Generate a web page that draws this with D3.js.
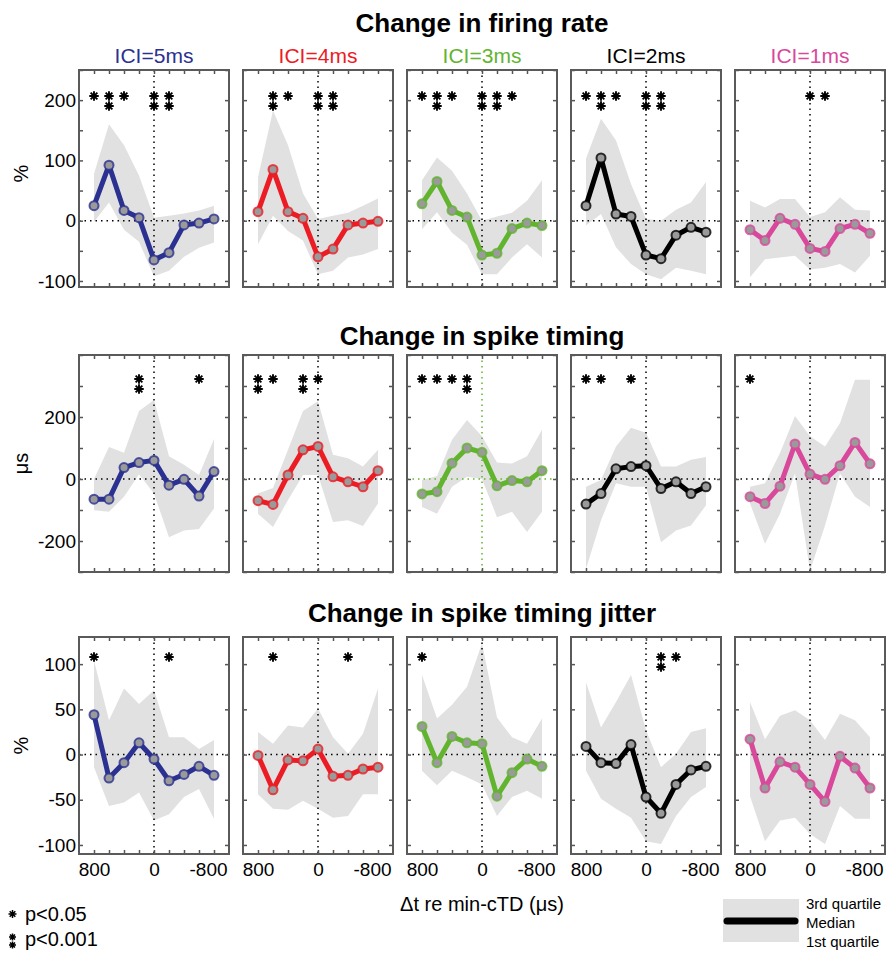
<!DOCTYPE html>
<html>
<head>
<meta charset="utf-8">
<script src="https://cdn.jsdelivr.net/npm/d3@7"></script>
<style>
  body { margin: 0; background: #fff; }
  svg { font-family: "Liberation Sans", Arial, sans-serif; }
  .tick line { stroke: #555; stroke-width: 1.5; }
  .domain { display: none; }
</style>
</head>
<body>
<div class="chart"></div>
<script>

// time offsets (x), same for every panel
const dt = [800, 600, 400, 200, 0, -200, -400, -600, -800];
const conditions = ["ICI=5ms", "ICI=4ms", "ICI=3ms", "ICI=2ms", "ICI=1ms"];
const colors = ["#2b3190", "#ec1c24", "#62b42f", "#000000", "#d8489b"];

// change in firing rate (%)
const rateMedian = [
  [25, 92, 17, 5, -65, -53, -7, -4, 3],
  [15, 85, 15, 4, -60, -47, -7, -4, -1],
  [28, 65, 17, 6, -57, -54, -13, -4, -8],
  [25, 104, 11, 7, -57, -63, -24, -11, -19],
  [-15, -33, 4, -6, -46, -51, -13, -6, -21]
];
const rateQ3 = [
  [78, 160, 125, 75, 5, 8, 12, 17, 25],
  [72, 183, 125, 45, 3, 8, 13, 25, 37],
  [67, 105, 83, 45, 0, 7, 13, 33, 67],
  [103, 169, 133, 61, 3, 0, 18, 30, 64],
  [33, 22, 36, 36, 6, 14, 39, 18, 17]
];
const rateQ1 = [
  [-2, 30, -15, -35, -92, -83, -60, -45, -36],
  [-39, 8, -17, -33, -89, -83, -61, -56, -47],
  [-14, 14, -20, -40, -89, -89, -61, -39, -61],
  [-8, 11, -44, -72, -89, -97, -78, -83, -89],
  [-94, -64, -61, -58, -81, -78, -72, -86, -58]
];
const rateStars = [
  [[800, 1], [600, 2], [400, 1], [0, 2], [-200, 2]],
  [[600, 2], [400, 1], [0, 2], [-200, 2]],
  [[800, 1], [600, 2], [400, 1], [0, 2], [-200, 2], [-400, 1]],
  [[800, 1], [600, 2], [400, 1], [0, 2], [-200, 2]],
  [[0, 1], [-200, 1]]
];

// change in spike timing (µs)
const timingMedian = [
  [-65, -65, 37, 53, 60, -20, -1, -55, 24],
  [-70, -82, 13, 94, 105, 7, -9, -25, 27],
  [-48, -41, 51, 100, 86, -22, -5, -9, 27],
  [-81, -47, 33, 40, 43, -31, -9, -47, -25],
  [-57, -79, -23, 113, 16, -1, 43, 118, 49]
];
const timingQ3 = [
  [0, 103, 85, 219, 255, 73, 46, 13, 129],
  [-47, -29, 94, 219, 251, 78, 67, 40, 94],
  [-3, 10, 127, 190, 138, 53, 50, 73, 159],
  [-25, -3, 105, 165, 149, 40, 40, 62, 71],
  [-25, -14, 84, 203, 138, 105, 181, 320, 320]
];
const timingQ1 = [
  [-101, -106, -57, 15, -47, -188, -166, -161, -95],
  [-112, -155, -68, 13, 13, -139, -133, -152, -79],
  [-90, -112, -25, 7, 0, -123, -106, -171, -106],
  [-290, -133, -14, -25, -25, -204, -166, -150, -85],
  [-79, -209, -112, 18, -296, -150, 18, -57, -90]
];
const timingStars = [
  [[200, 2], [-600, 1]],
  [[800, 2], [600, 1], [200, 2], [0, 1]],
  [[800, 1], [600, 1], [400, 1], [200, 2]],
  [[800, 1], [600, 1], [200, 1]],
  [[800, 1]]
];

// change in spike timing jitter (%)
const jitterMedian = [
  [44, -26, -9, 13, -5, -29, -22, -13, -23],
  [-1, -39, -6, -7, 6, -24, -23, -16, -14],
  [31, -9, 20, 13, 12, -46, -20, -5, -13],
  [9, -9, -10, 11, -47, -65, -33, -17, -13],
  [17, -37, -8, -14, -33, -52, -2, -15, -37]
];
const jitterQ3 = [
  [104, 38, 73, 56, 71, 19, 19, 6, 16],
  [25, 12, 32, 30, 51, 19, 1, 23, 73],
  [88, 40, 55, 75, 123, 41, 19, 12, 40],
  [80, 30, 58, 88, 27, -14, 1, 25, 29],
  [58, 17, 43, 49, 38, 16, 45, 38, 19]
];
const jitterQ1 = [
  [-14, -57, -53, -42, -73, -66, -47, -38, -71],
  [-44, -60, -61, -51, -60, -70, -68, -44, -44],
  [-18, -34, -18, -25, -33, -68, -47, -40, -49],
  [-18, -49, -60, -70, -96, -99, -68, -47, -36],
  [-46, -96, -73, -70, -88, -99, -57, -71, -71]
];
const jitterStars = [
  [[800, 1], [-200, 1]],
  [[600, 1], [-400, 1]],
  [[800, 1]],
  [[-200, 2], [-400, 1]],
  []
];

const xTickLabels = [800, 0, -800];

// layout
const W = 889, H = 958;
const panelW = 150, panelH = 217;
const colLeft = [79, 243, 407, 571, 735];

const rows = [
  {title: "Change in firing rate", unit: "%", top: 70, titleY: 32, domain: [-110, 250],
   ticks: d3.range(-100, 251, 50), labels: [200, 100, 0, -100],
   med: rateMedian, q1: rateQ1, q3: rateQ3, stars: rateStars, starTop: 26},
  {title: "Change in spike timing", unit: "\u03bcs", top: 355, titleY: 345, domain: [-300, 400],
   ticks: d3.range(-300, 401, 100), labels: [200, 0, -200],
   med: timingMedian, q1: timingQ1, q3: timingQ3, stars: timingStars, starTop: 24},
  {title: "Change in spike timing jitter", unit: "%", top: 637, titleY: 622, domain: [-110, 130],
   ticks: d3.range(-100, 131, 50), labels: [100, 50, 0, -50, -100],
   med: jitterMedian, q1: jitterQ1, q3: jitterQ3, stars: jitterStars, starTop: 20}
];

// plain hyphen for negatives, like the original
const fmt = d => String(d);

// 8-point asterisk for significance marks
const asterisk = {
  draw(ctx, size) {
    const r = Math.sqrt(size) / 2;
    for (let k = 0; k < 4; k++) {
      const a = k * Math.PI / 4;
      ctx.moveTo(-r * Math.cos(a), -r * Math.sin(a));
      ctx.lineTo(r * Math.cos(a), r * Math.sin(a));
    }
  }
};
const star = d3.symbol().type(asterisk);

const svg = d3.select(".chart").append("svg")
    .attr("width", W)
    .attr("height", H);

const x = d3.scaleLinear().domain([1000, -1000]).range([0, panelW]);

rows.forEach((row, r) => {
  const y = d3.scaleLinear().domain(row.domain).range([panelH, 0]);

  svg.append("text")
      .attr("x", colLeft[2] + panelW / 2)
      .attr("y", row.titleY)
      .attr("text-anchor", "middle")
      .attr("font-size", 26)
      .attr("font-weight", "bold")
      .text(row.title);

  svg.append("text")
      .attr("transform", `translate(28, ${row.top + panelH / 2 - (r === 0 ? 5 : 0)}) rotate(-90)`)
      .attr("text-anchor", "middle")
      .attr("font-size", 20)
      .text(row.unit);

  conditions.forEach((cond, c) => {
    const col = colors[c];
    const g = svg.append("g")
        .attr("transform", `translate(${colLeft[c]}, ${row.top})`);

    if (r === 0) {
      svg.append("text")
          .attr("x", colLeft[c] + panelW / 2)
          .attr("y", 63)
          .attr("text-anchor", "middle")
          .attr("font-size", 21)
          .attr("fill", col)
          .text(cond);
    }

    const pts = dt.map((d, i) => ({t: d, m: row.med[c][i], lo: row.q1[c][i], hi: row.q3[c][i]}));

    // interquartile band
    g.append("path")
        .datum(pts)
        .attr("fill", "#e1e1e1")
        .attr("d", d3.area().x(d => x(d.t)).y0(d => y(d.lo)).y1(d => y(d.hi)));

    // dotted zero lines (green in the spike timing / 3ms panel)
    const dotCol = (r === 1 && c === 2) ? col : "#000";
    g.append("line")
        .attr("x1", x(0)).attr("x2", x(0))
        .attr("y1", 0).attr("y2", panelH)
        .attr("stroke", dotCol).attr("stroke-width", 1.5)
        .attr("stroke-dasharray", "1.5,4");
    g.append("line")
        .attr("x1", 0).attr("x2", panelW)
        .attr("y1", y(0)).attr("y2", y(0))
        .attr("stroke", dotCol).attr("stroke-width", 1.5)
        .attr("stroke-dasharray", "1.5,4");

    // median line + markers
    g.append("path")
        .datum(pts)
        .attr("fill", "none")
        .attr("stroke", col)
        .attr("stroke-width", 5)
        .attr("stroke-linejoin", "round")
        .attr("d", d3.line().x(d => x(d.t)).y(d => y(d.m)));

    g.selectAll(".dot")
        .data(pts)
        .enter()
        .append("circle")
        .attr("class", "dot")
        .attr("cx", d => x(d.t))
        .attr("cy", d => y(d.m))
        .attr("r", 4.5)
        .attr("fill", "#9a9a9a")
        .attr("stroke", col)
        .attr("stroke-opacity", 0.8)
        .attr("stroke-width", 2);

    // significance stars (level 2 = two stacked)
    const marks = [];
    row.stars[c].forEach(([t, n]) => {
      for (let k = 0; k < n; k++) marks.push({t: t, k: k});
    });
    g.selectAll(".star")
        .data(marks)
        .enter()
        .append("path")
        .attr("class", "star")
        .attr("transform", d => `translate(${x(d.t)}, ${row.starTop + d.k * 10})`)
        .attr("d", star.size(90))
        .attr("fill", "none")
        .attr("stroke", "#000")
        .attr("stroke-width", 1.9);

    // inward ticks on all four sides
    g.append("g").call(d3.axisLeft(y).tickValues(row.ticks).tickSize(-4).tickFormat(""));
    g.append("g").attr("transform", `translate(${panelW}, 0)`)
        .call(d3.axisRight(y).tickValues(row.ticks).tickSize(-4).tickFormat(""));
    g.append("g").call(d3.axisTop(x).tickValues(dt).tickSize(-4).tickFormat(""));
    g.append("g").attr("transform", `translate(0, ${panelH})`)
        .call(d3.axisBottom(x).tickValues(dt).tickSize(-4).tickFormat(""));

    g.append("rect")
        .attr("width", panelW)
        .attr("height", panelH)
        .attr("fill", "none")
        .attr("stroke", "#5a5a5a")
        .attr("stroke-width", 2);

    if (c === 0) {
      g.append("g")
          .call(d3.axisLeft(y).tickValues(row.labels).tickSize(0).tickPadding(3).tickFormat(fmt))
          .selectAll("text")
          .attr("font-size", 19)
          .attr("fill", "#000");
    }
    if (r === rows.length - 1) {
      g.append("g")
          .attr("transform", `translate(0, ${panelH})`)
          .call(d3.axisBottom(x).tickValues(xTickLabels).tickSize(0).tickPadding(9).tickFormat(fmt))
          .selectAll("text")
          .attr("font-size", 19)
          .attr("fill", "#000")
          .attr("dx", d => d < 0 ? -6 : 0);
    }
  });
});

svg.selectAll(".domain").remove();

// x axis title
svg.append("text")
    .attr("x", colLeft[2] + panelW / 2)
    .attr("y", 911)
    .attr("text-anchor", "middle")
    .attr("font-size", 20)
    .text("\u0394t re min-cTD (\u03bcs)");

// significance legend
const sig = svg.append("g");
sig.append("path")
    .attr("transform", "translate(12.5, 914)")
    .attr("d", star.size(64))
    .attr("fill", "none").attr("stroke", "#000").attr("stroke-width", 1.5);
sig.append("text").attr("x", 25).attr("y", 921).attr("font-size", 20).text("p<0.05");
[937, 945].forEach(yy => {
  sig.append("path")
      .attr("transform", `translate(12.5, ${yy})`)
      .attr("d", star.size(49))
      .attr("fill", "none").attr("stroke", "#000").attr("stroke-width", 1.5);
});
sig.append("text").attr("x", 25).attr("y", 946).attr("font-size", 20).text("p<0.001");

// quartile legend
const leg = svg.append("g");
leg.append("rect")
    .attr("x", 723).attr("y", 899)
    .attr("width", 76).attr("height", 43)
    .attr("fill", "#e1e1e1");
leg.append("line")
    .attr("x1", 727).attr("x2", 795)
    .attr("y1", 921).attr("y2", 921)
    .attr("stroke", "#000").attr("stroke-width", 7)
    .attr("stroke-linecap", "round");
[["3rd quartile", 903], ["Median", 922], ["1st quartile", 941]].forEach(([t, yy]) => {
  leg.append("text")
      .attr("x", 806).attr("y", yy)
      .attr("dominant-baseline", "central")
      .attr("font-size", 15)
      .text(t);
});

</script>
</body>
</html>
